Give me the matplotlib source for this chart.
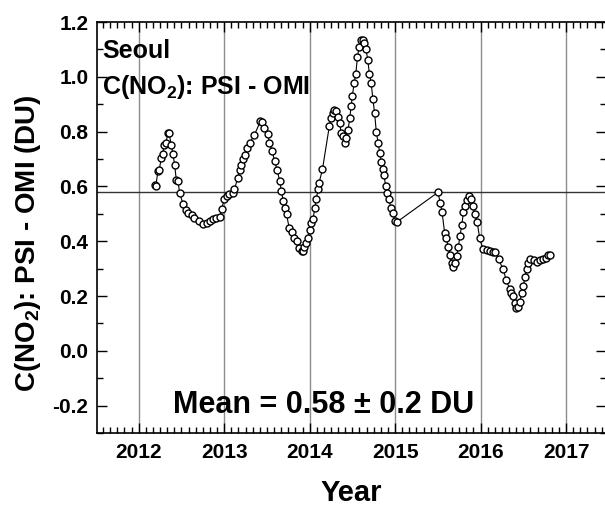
import matplotlib
matplotlib.use("Agg")
import matplotlib.pyplot as plt
from matplotlib.ticker import MultipleLocator, FormatStrFormatter

plt.rcParams['font.family'] = ['Liberation Sans', 'DejaVu Sans']
plt.rcParams['font.weight'] = 'bold'
plt.rcParams['mathtext.default'] = 'regular'

# PSI - OMI NO2 column difference over Seoul (decimal year, DU)
years = [2012.19, 2012.20, 2012.225, 2012.24, 2012.265, 2012.28, 2012.30, 2012.32,
         2012.34, 2012.355, 2012.38, 2012.40, 2012.42, 2012.44, 2012.46, 2012.48,
         2012.52, 2012.55, 2012.58, 2012.62, 2012.65, 2012.70, 2012.75, 2012.80,
         2012.83, 2012.87, 2012.91, 2012.95, 2012.97, 2013.00, 2013.03, 2013.06,
         2013.10, 2013.12, 2013.16, 2013.18, 2013.20, 2013.22, 2013.24, 2013.27,
         2013.30, 2013.355, 2013.425, 2013.44, 2013.47, 2013.51, 2013.53, 2013.56,
         2013.59, 2013.62, 2013.65, 2013.67, 2013.69, 2013.71, 2013.73, 2013.76,
         2013.79, 2013.82, 2013.85, 2013.88, 2013.905, 2013.92, 2013.94, 2013.96,
         2013.98, 2014.00, 2014.02, 2014.04, 2014.06, 2014.076, 2014.10, 2014.11,
         2014.15, 2014.23, 2014.25, 2014.27, 2014.29, 2014.31, 2014.33, 2014.35,
         2014.37, 2014.39, 2014.41, 2014.43, 2014.45, 2014.47, 2014.485, 2014.50,
         2014.52, 2014.54, 2014.56, 2014.58, 2014.60, 2014.62, 2014.64, 2014.66,
         2014.68, 2014.70, 2014.72, 2014.74, 2014.76, 2014.78, 2014.80, 2014.82,
         2014.84, 2014.855, 2014.87, 2014.89, 2014.91, 2014.93, 2014.95, 2014.97,
         2015.00, 2015.02, 2015.50, 2015.53, 2015.55, 2015.58, 2015.60, 2015.62,
         2015.64, 2015.66, 2015.68, 2015.70, 2015.72, 2015.74, 2015.76, 2015.78,
         2015.80, 2015.82, 2015.84, 2015.87, 2015.89, 2015.91, 2015.93, 2015.96,
         2015.99, 2016.03, 2016.07, 2016.11, 2016.14, 2016.17, 2016.21, 2016.26,
         2016.30, 2016.34, 2016.36, 2016.38, 2016.40, 2016.42, 2016.44, 2016.46,
         2016.48, 2016.50, 2016.52, 2016.54, 2016.56, 2016.58, 2016.62, 2016.66,
         2016.70, 2016.73, 2016.76, 2016.79, 2016.81]
diff = [0.607, 0.60, 0.656, 0.66, 0.704, 0.72, 0.753, 0.76,
        0.795, 0.795, 0.753, 0.72, 0.68, 0.625, 0.619, 0.575,
        0.535, 0.515, 0.504, 0.495, 0.486, 0.475, 0.462, 0.465,
        0.474, 0.48, 0.486, 0.49, 0.516, 0.553, 0.565, 0.571,
        0.575, 0.589, 0.632, 0.66, 0.68, 0.70, 0.716, 0.74,
        0.759, 0.789, 0.838, 0.835, 0.813, 0.79, 0.759, 0.73,
        0.692, 0.66, 0.619, 0.585, 0.547, 0.52, 0.498, 0.45,
        0.435, 0.413, 0.40, 0.377, 0.365, 0.365, 0.38, 0.395,
        0.413, 0.44, 0.468, 0.48, 0.52, 0.553, 0.59, 0.613,
        0.662, 0.819, 0.85, 0.868, 0.88, 0.875, 0.855, 0.832,
        0.795, 0.783, 0.759, 0.775, 0.807, 0.85, 0.892, 0.93,
        0.977, 1.01, 1.074, 1.11, 1.135, 1.135, 1.122, 1.10,
        1.062, 1.01, 0.977, 0.92, 0.868, 0.80, 0.76, 0.722,
        0.69, 0.662, 0.64, 0.601, 0.575, 0.553, 0.52, 0.504,
        0.474, 0.47, 0.578, 0.54, 0.505, 0.43, 0.41, 0.38,
        0.35, 0.32, 0.305, 0.32, 0.345, 0.38, 0.42, 0.46,
        0.505, 0.53, 0.55, 0.565, 0.555, 0.53, 0.50, 0.47,
        0.41, 0.37, 0.368, 0.365, 0.362, 0.36, 0.335, 0.30,
        0.26, 0.225, 0.21, 0.20, 0.175, 0.155, 0.16, 0.18,
        0.21, 0.235, 0.27, 0.30, 0.32, 0.335, 0.33, 0.325,
        0.33, 0.335, 0.34, 0.35, 0.35]

mean_diff = 0.58
std_diff = 0.2
year_ticks = [2012, 2013, 2014, 2015, 2016, 2017]

fig = plt.figure(figsize=(6.05, 5.08), dpi=100)
ax = fig.add_axes([0.160, 0.1476, 0.842, 0.809])

ax.set_xlim(2011.51, 2017.47)
ax.set_ylim(-0.3, 1.2)

# yearly grid and the mean level
for yr in year_ticks:
    ax.axvline(yr, color='#8c8c8c', lw=1.0, zorder=1)
ax.axhline(mean_diff, color='#333333', lw=1.0, zorder=1)

ax.plot(years, diff, '-', color='black', lw=0.8, marker='o', ms=5,
        mfc='white', mec='black', mew=1.0, zorder=3)

ax.xaxis.set_major_locator(MultipleLocator(1))
ax.xaxis.set_minor_locator(MultipleLocator(1 / 12))
ax.yaxis.set_major_locator(MultipleLocator(0.2))
ax.yaxis.set_minor_locator(MultipleLocator(0.1))
ax.yaxis.set_major_formatter(FormatStrFormatter('%.1f'))
ax.tick_params(which='both', direction='in', top=True, right=True, width=1.0)
ax.tick_params(which='major', length=7, labelsize=15)
ax.tick_params(axis='x', which='major', pad=7)
ax.tick_params(axis='y', which='major', pad=6)
ax.tick_params(which='minor', length=4)
for sp in ax.spines.values():
    sp.set_linewidth(1.2)

ax.text(0.010, 0.912, 'Seoul', transform=ax.transAxes, fontsize=18,
        fontweight='bold', va='baseline', ha='left')
ax.text(0.010, 0.825, 'C(NO$_2$): PSI - OMI', transform=ax.transAxes,
        fontsize=18, fontweight='bold', va='baseline', ha='left')
ax.text(0.445, 0.049, f'Mean = {mean_diff:.2f} \u00b1 {std_diff:.1f} DU',
        transform=ax.transAxes, fontsize=22, fontweight='bold',
        ha='center', va='baseline')

fig.text(0.580, 0.030, 'Year', fontsize=21, fontweight='bold',
         ha='center', va='center')
fig.text(0.046, 0.522, 'C(NO$_2$): PSI - OMI (DU)', rotation=90, fontsize=20,
         fontweight='bold', ha='center', va='center')

fig.savefig('out.png', dpi=100)
